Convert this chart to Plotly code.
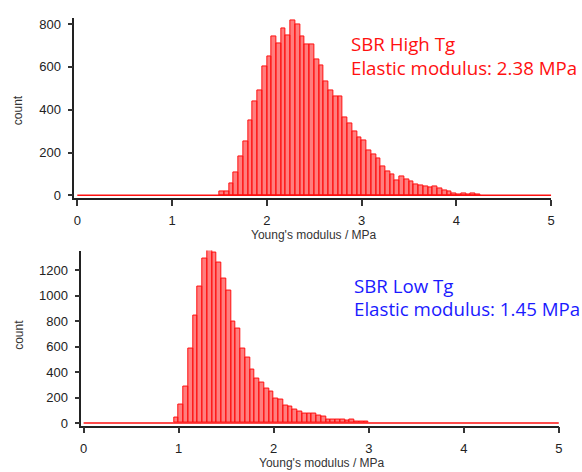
import plotly.graph_objects as go

W, H = 582, 472

BIN_WIDTH = 0.05
X_TICKS = [0, 1, 2, 3, 4, 5]

# SBR High Tg histogram, bins start at 1.50 MPa
high_start = 1.50
high_counts = [
    20, 20, 57, 109, 181, 251, 352, 438, 492, 601,
    648, 742, 708, 780, 746, 819, 800, 740, 703, 703,
    635, 605, 533, 492, 460, 460, 363, 335, 300, 270,
    255, 211, 193, 173, 136, 113, 98, 72, 87, 75,
    66, 50, 47, 41, 35, 41, 30, 22, 17, 11,
    6, 9, 4, 9, 4,
]
high_label = ["SBR High Tg", "Elastic modulus: 2.38 MPa"]
high_y_ticks = [0, 200, 400, 600, 800]

# SBR Low Tg histogram, bins start at 0.95 MPa
low_start = 0.95
low_counts = [
    44, 147, 284, 586, 844, 1071, 1295, 1360, 1342, 1264,
    1135, 1037, 800, 740, 586, 516, 418, 350, 318, 272,
    249, 193, 184, 137, 125, 103, 93, 70, 70, 70,
    62, 49, 26, 26, 26, 26, 18, 26, 13, 13,
    13,
]
low_label = ["SBR Low Tg", "Elastic modulus: 1.45 MPa"]
low_y_ticks = [0, 200, 400, 600, 800, 1000, 1200]

RED = "#ff1010"
BLUE = "#1a1aff"
AXIS_FONT = dict(family="Liberation Sans, Arial", size=13, color="#222")


def px_x(p):
    return p / W


def px_y(p):
    return 1 - p / H


fig = go.Figure()


def add_hist(start, counts, xa, ya):
    centers = [start + BIN_WIDTH * (i + 0.5) for i in range(len(counts))]
    # zero bins drawn by Igor as a thin outline along the baseline
    fig.add_trace(go.Scatter(
        x=[X_TICKS[0], X_TICKS[-1]], y=[0, 0], mode="lines",
        line=dict(color=RED, width=1.5), xaxis=xa, yaxis=ya,
        showlegend=False, hoverinfo="skip",
    ))
    fig.add_trace(go.Bar(
        x=centers, y=counts, width=BIN_WIDTH,
        marker=dict(color="rgba(255,20,20,0.55)", line=dict(color=RED, width=1)),
        xaxis=xa, yaxis=ya, showlegend=False,
    ))


add_hist(high_start, high_counts, "x", "y")
add_hist(low_start, low_counts, "x2", "y2")

common_x = dict(
    tickvals=X_TICKS, ticks="outside", ticklen=6, tickwidth=1.5, tickcolor="#333",
    showline=True, linecolor="#222", linewidth=1.5, showgrid=False, zeroline=False,
    tickfont=AXIS_FONT, ticklabelstandoff=4,
)
common_y = dict(
    ticks="outside", ticklen=5, tickwidth=1.5, tickcolor="#333",
    showline=True, linecolor="#222", linewidth=1.5, showgrid=False, zeroline=False,
    tickfont=AXIS_FONT, ticklabelstandoff=4,
)

fig.update_layout(
    width=W, height=H,
    margin=dict(l=0, r=0, t=0, b=0),
    paper_bgcolor="white", plot_bgcolor="white",
    bargap=0,
    xaxis=dict(domain=[px_x(74), px_x(555)], range=[-0.031, 5.0], anchor="y", **common_x),
    yaxis=dict(domain=[px_y(199), px_y(16.7)], range=[-12.5, 826], tickvals=high_y_ticks,
               anchor="x", **common_y),
    xaxis2=dict(domain=[px_x(81), px_x(562.7)], range=[-0.024, 5.0], anchor="y2", **common_x),
    yaxis2=dict(domain=[px_y(430), px_y(252.3)], range=[-21, 1355], tickvals=low_y_ticks,
                anchor="x2", **common_y),
)

annotations = []
for cx, cy, txt in [(316, 236.5, "Young's modulus / MPa"), (324, 467.5, "Young's modulus / MPa")]:
    annotations.append(dict(x=px_x(cx), y=px_y(cy), xref="paper", yref="paper", text=txt,
                            showarrow=False, xanchor="center", yanchor="middle",
                            font=dict(family="Liberation Sans, Arial", size=12, color="#333")))
for cx, cy in [(18, 110), (18, 338)]:
    annotations.append(dict(x=px_x(cx), y=px_y(cy), xref="paper", yref="paper", text="count",
                            textangle=-90, showarrow=False, xanchor="center", yanchor="middle",
                            font=dict(family="Liberation Sans, Arial", size=12, color="#333")))
for lines, x0, ys, color in [(high_label, 351, (42.5, 66.5), RED), (low_label, 354, (287.5, 311.5), BLUE)]:
    for txt, cy in zip(lines, ys):
        annotations.append(dict(x=px_x(x0), y=px_y(cy), xref="paper", yref="paper", text=txt,
                                showarrow=False, xanchor="left", yanchor="middle",
                                font=dict(family="Open Sans", size=18.7, color=color)))
fig.update_layout(annotations=annotations)

# drop the default body margin so the figure sits flush with the window
fig.write_html("out.html", config={"displayModeBar": False},
               post_script="document.body.style.margin='0';")
